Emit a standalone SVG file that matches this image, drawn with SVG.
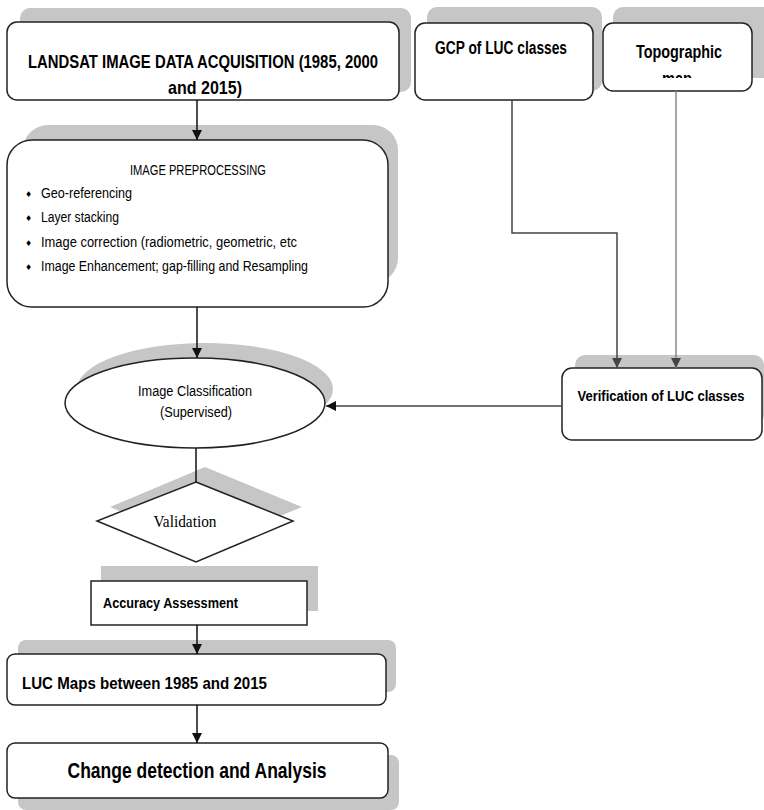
<svg xmlns="http://www.w3.org/2000/svg" width="764" height="810" viewBox="0 0 764 810">
<defs>
<marker id="arr" markerWidth="10" markerHeight="10" refX="10" refY="5" orient="auto" markerUnits="userSpaceOnUse">
<path d="M0,0 L10,5 L0,10 Z" fill="#111"/>
</marker>
<marker id="arrg" markerWidth="10" markerHeight="10" refX="10" refY="5" orient="auto" markerUnits="userSpaceOnUse">
<path d="M0,0 L10,5 L0,10 Z" fill="#444"/>
</marker>
<clipPath id="mapclip"><rect x="600" y="60" width="160" height="18"/></clipPath>
</defs>
<style>
.sh{fill:#c6c6c6;stroke:none}
.bx{fill:#fff;stroke:#222;stroke-width:1.5}
.b{font-family:"Liberation Sans",Arial,sans-serif;font-weight:bold;fill:#000}
.n{font-family:"Liberation Sans",Arial,sans-serif;fill:#000}
.bl{font-family:"DejaVu Sans",sans-serif;fill:#000}
.s{font-family:"Liberation Serif","Times New Roman",serif;fill:#000}
.c{fill:none;stroke:#111;stroke-width:1.5}
.cg{fill:none;stroke:#444;stroke-width:1.5}
.cl{fill:none;stroke:#888;stroke-width:1.5}
</style>
<rect width="764" height="810" fill="#fff"/>

<g id="landsat">
<rect class="sh" x="20" y="8" width="391" height="84" rx="10"/>
<rect class="bx" x="7" y="22" width="392" height="78" rx="10"/>
<text class="b" x="203" y="68" font-size="19" text-anchor="middle" textLength="350" lengthAdjust="spacingAndGlyphs">LANDSAT IMAGE DATA ACQUISITION (1985, 2000</text>
<text class="b" x="205" y="94" font-size="19" text-anchor="middle" textLength="74" lengthAdjust="spacingAndGlyphs">and 2015)</text>
</g>

<g id="gcp">
<rect class="sh" x="427" y="7" width="175" height="84" rx="10"/>
<rect class="bx" x="415" y="23" width="178" height="77" rx="10"/>
<text class="b" x="501" y="54" font-size="18" text-anchor="middle" textLength="132" lengthAdjust="spacingAndGlyphs">GCP of LUC classes</text>
</g>

<g id="topo">
<rect class="sh" x="613" y="7" width="160" height="71" rx="10"/>
<rect class="bx" x="603" y="23" width="149" height="68" rx="10"/>
<text class="b" x="679" y="58" font-size="18" text-anchor="middle" textLength="86" lengthAdjust="spacingAndGlyphs">Topographic</text>
<text class="b" x="677" y="85" font-size="18" text-anchor="middle" textLength="30" lengthAdjust="spacingAndGlyphs" clip-path="url(#mapclip)">map</text>
</g>

<g id="preproc">
<rect class="sh" x="23" y="125" width="375" height="158" rx="25"/>
<rect class="bx" x="7" y="140" width="381" height="167" rx="25"/>
<text class="n" x="198" y="175" font-size="14" text-anchor="middle" textLength="136" lengthAdjust="spacingAndGlyphs">IMAGE PREPROCESSING</text>
<text class="bl" x="25" y="197" font-size="8">♦</text>
<text class="n" x="41" y="198" font-size="14" textLength="91" lengthAdjust="spacingAndGlyphs">Geo-referencing</text>
<text class="bl" x="25" y="221" font-size="8">♦</text>
<text class="n" x="41" y="222" font-size="14" textLength="78" lengthAdjust="spacingAndGlyphs">Layer stacking</text>
<text class="bl" x="25" y="246" font-size="8">♦</text>
<text class="n" x="41" y="247" font-size="14" textLength="256" lengthAdjust="spacingAndGlyphs">Image correction (radiometric, geometric, etc</text>
<text class="bl" x="25" y="270" font-size="8">♦</text>
<text class="n" x="41" y="271" font-size="14" textLength="267" lengthAdjust="spacingAndGlyphs">Image Enhancement; gap-filling and Resampling</text>
</g>

<g id="classification">
<ellipse class="sh" cx="205" cy="389" rx="128" ry="46"/>
<ellipse class="bx" cx="195" cy="403" rx="130" ry="45"/>
<text class="n" x="195" y="396" font-size="14" text-anchor="middle" textLength="114" lengthAdjust="spacingAndGlyphs">Image Classification</text>
<text class="n" x="196" y="417" font-size="14" text-anchor="middle" textLength="72" lengthAdjust="spacingAndGlyphs">(Supervised)</text>
</g>

<g id="verification">
<rect class="sh" x="575" y="355" width="189" height="70" rx="10"/>
<rect class="bx" x="562" y="368" width="200" height="72" rx="10"/>
<text class="b" x="661" y="401" font-size="15" text-anchor="middle" textLength="167" lengthAdjust="spacingAndGlyphs">Verification of LUC classes</text>
</g>

<g id="validation">
<polygon class="sh" points="205,467 302,507 205,547 110,507"/>
<polygon class="bx" points="196,482 293,521 196,562 97,521"/>
<text class="s" x="185" y="527" font-size="17" text-anchor="middle" textLength="63" lengthAdjust="spacingAndGlyphs">Validation</text>
</g>

<g id="accuracy">
<rect class="sh" x="101" y="566" width="217" height="45"/>
<rect class="bx" x="91" y="581" width="216" height="44"/>
<text class="b" x="103" y="608" font-size="15" textLength="135" lengthAdjust="spacingAndGlyphs">Accuracy Assessment</text>
</g>

<g id="lucmaps">
<rect class="sh" x="18" y="640" width="378" height="52" rx="8"/>
<rect class="bx" x="7" y="654" width="379" height="51" rx="8"/>
<text class="b" x="22" y="689" font-size="17" textLength="245" lengthAdjust="spacingAndGlyphs">LUC Maps between 1985 and 2015</text>
</g>

<g id="change">
<rect class="sh" x="18" y="755" width="381" height="55" rx="8"/>
<rect class="bx" x="7" y="743" width="381" height="55" rx="8"/>
<text class="b" x="197" y="778" font-size="22" text-anchor="middle" textLength="259" lengthAdjust="spacingAndGlyphs">Change detection and Analysis</text>
</g>

<g id="connectors">
<path class="c" d="M197,100 V140" marker-end="url(#arr)"/>
<path class="c" d="M197,307 V358" marker-end="url(#arr)"/>
<path class="cg" d="M512,100 V233 H617 V368" marker-end="url(#arrg)"/>
<path class="cl" d="M676,91 V368" marker-end="url(#arrg)"/>
<path class="cg" d="M562,406 H326" marker-end="url(#arr)"/>
<path class="c" d="M196,448 V482"/>
<path class="c" d="M197,625 V654" marker-end="url(#arr)"/>
<path class="c" d="M197,705 V743" marker-end="url(#arr)"/>
</g>
</svg>
